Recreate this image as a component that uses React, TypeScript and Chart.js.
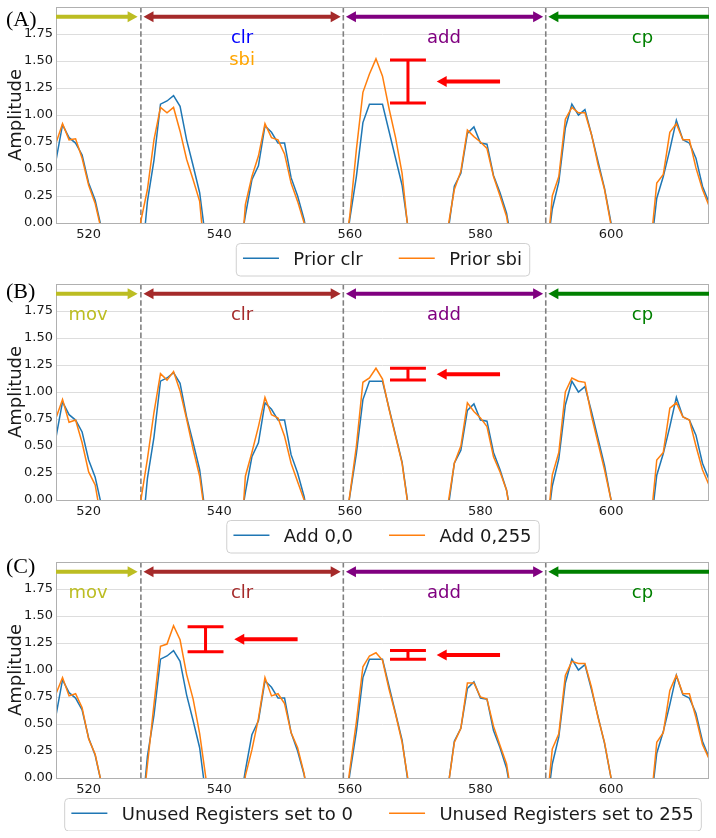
import React, { useEffect, useRef } from 'react';
import { Chart, registerables } from 'chart.js';

Chart.register(...registerables);

// ---------------- data ----------------
const SAMPLE_START = 513; // first sample index of every series below
const X_MIN = 515;
const X_MAX = 615;
const Y_MIN = 0;
const Y_MAX = 2.0;
const X_TICKS = [520, 540, 560, 580, 600];
const Y_TICKS = [0, 0.25, 0.5, 0.75, 1.0, 1.25, 1.5, 1.75];
const SEGMENT_BOUNDS = [528, 559, 590];

// baseline trace (blue) shared by all three panels, samples 513..616
const BASELINE = [
  -0.10, 0.28, 0.58, 0.91, 0.79, 0.74, 0.63, 0.37, 0.21, -0.06,
  -0.45, -0.80, -0.95, -0.85, -0.65, -0.45, 0.20, 0.58, 1.10, 1.13,
  1.18, 1.08, 0.77, 0.53, 0.28, -0.19, -0.60, -0.90, -1.00, -0.90,
  -0.30, 0.07, 0.40, 0.53, 0.90, 0.84, 0.74, 0.74, 0.42, 0.25,
  0.03, -0.30, -0.70, -0.95, -0.95, -0.70, -0.40, 0.04, 0.43, 0.93,
  1.10, 1.10, 1.10, 0.85, 0.60, 0.35, -0.08, -0.50, -0.85, -1.00,
  -0.90, -0.60, -0.10, 0.34, 0.46, 0.83, 0.89, 0.74, 0.73, 0.44,
  0.28, 0.09, -0.25, -0.70, -0.95, -1.00, -0.80, -0.35, 0.13, 0.38,
  0.88, 1.10, 1.00, 1.05, 0.82, 0.57, 0.32, 0.00, -0.40, -0.80,
  -1.00, -0.95, -0.70, -0.30, 0.23, 0.43, 0.68, 0.95, 0.77, 0.74,
  0.60, 0.34, 0.19, 0.02,
];

// (A) Prior sbi
const PRIOR_SBI = [
  0.10, 0.50, 0.74, 0.92, 0.77, 0.78, 0.60, 0.35, 0.18, -0.08,
  -0.50, -0.85, -1.00, -0.85, -0.50, 0.02, 0.31, 0.77, 1.07, 1.02,
  1.07, 0.85, 0.59, 0.40, 0.20, -0.45, -0.85, -1.00, -0.95, -0.80,
  -0.65, 0.17, 0.43, 0.62, 0.92, 0.79, 0.77, 0.64, 0.37, 0.20,
  0.00, -0.35, -0.75, -0.95, -0.90, -0.65, -0.35, 0.07, 0.68, 1.21,
  1.38, 1.52, 1.36, 1.06, 0.79, 0.46, -0.12, -0.60, -0.90, -1.00,
  -0.90, -0.60, -0.05, 0.31, 0.48, 0.86, 0.80, 0.75, 0.69, 0.43,
  0.25, 0.06, -0.30, -0.70, -0.95, -1.00, -0.80, -0.45, 0.25, 0.43,
  0.96, 1.07, 1.02, 1.02, 0.82, 0.54, 0.31, -0.02, -0.45, -0.85,
  -1.00, -0.90, -0.65, -0.25, 0.37, 0.45, 0.84, 0.92, 0.77, 0.77,
  0.51, 0.31, 0.16, 0.00,
];

// (B) Add 0,255
const ADD_0_255 = [
  0.15, 0.50, 0.76, 0.93, 0.72, 0.74, 0.53, 0.26, 0.14, -0.21,
  -0.55, -0.85, -1.00, -0.85, -0.50, 0.00, 0.38, 0.81, 1.17, 1.11,
  1.19, 1.01, 0.75, 0.47, 0.22, -0.22, -0.60, -0.90, -1.00, -0.90,
  -0.70, 0.22, 0.44, 0.68, 0.95, 0.79, 0.76, 0.59, 0.34, 0.17,
  0.00, -0.35, -0.75, -0.95, -0.90, -0.65, -0.35, 0.05, 0.50, 1.09,
  1.13, 1.22, 1.12, 0.84, 0.59, 0.34, -0.09, -0.50, -0.85, -1.00,
  -0.90, -0.60, -0.05, 0.34, 0.50, 0.90, 0.82, 0.76, 0.68, 0.40,
  0.26, 0.09, -0.30, -0.70, -0.95, -1.00, -0.80, -0.40, 0.23, 0.44,
  1.00, 1.13, 1.10, 1.09, 0.78, 0.53, 0.28, 0.00, -0.40, -0.80,
  -1.00, -0.95, -0.70, -0.25, 0.37, 0.44, 0.85, 0.90, 0.77, 0.74,
  0.50, 0.28, 0.14, -0.02,
];

// (C) Unused registers set to 255
const REGS_255 = [
  0.10, 0.50, 0.78, 0.93, 0.76, 0.78, 0.65, 0.36, 0.22, -0.06,
  -0.45, -0.80, -0.95, -0.85, -0.65, -0.45, 0.12, 0.68, 1.22, 1.24,
  1.41, 1.28, 0.96, 0.73, 0.41, -0.02, -0.50, -0.85, -1.00, -0.90,
  -0.60, 0.02, 0.26, 0.55, 0.93, 0.76, 0.78, 0.69, 0.42, 0.28,
  0.04, -0.35, -0.75, -0.95, -0.90, -0.65, -0.40, 0.08, 0.52, 1.03,
  1.13, 1.16, 1.09, 0.82, 0.59, 0.33, -0.05, -0.50, -0.85, -1.00,
  -0.90, -0.60, -0.10, 0.33, 0.46, 0.88, 0.88, 0.75, 0.73, 0.48,
  0.30, 0.13, -0.25, -0.70, -0.95, -1.00, -0.80, -0.35, 0.27, 0.41,
  0.95, 1.08, 1.06, 1.06, 0.84, 0.56, 0.33, 0.00, -0.40, -0.80,
  -1.00, -0.95, -0.70, -0.30, 0.33, 0.42, 0.81, 0.95, 0.78, 0.78,
  0.56, 0.31, 0.18, 0.00,
];

const TOP_ARROW_Y = 1.91;
const SEGMENT_ARROWS = [
  { from: 515, to: 527.5, color: '#bcbd22', headFrom: false, headTo: true },
  { from: 528.4, to: 558.6, color: '#a52a2a', headFrom: true, headTo: true },
  { from: 559.4, to: 589.6, color: '#800080', headFrom: true, headTo: true },
  { from: 615, to: 590.4, color: '#008000', headFrom: false, headTo: true },
];

const LABELS_A = [
  { text: 'clr', x: 543.5, y: 1.667, color: '#0000ff' },
  { text: 'sbi', x: 543.5, y: 1.466, color: '#ffa500' },
  { text: 'add', x: 574.4, y: 1.667, color: '#800080' },
  { text: 'cp', x: 604.8, y: 1.667, color: '#008000' },
];
const LABELS_BC = [
  { text: 'mov', x: 519.9, y: 1.667, color: '#bcbd22' },
  { text: 'clr', x: 543.5, y: 1.667, color: '#a52a2a' },
  { text: 'add', x: 574.4, y: 1.667, color: '#800080' },
  { text: 'cp', x: 604.8, y: 1.667, color: '#008000' },
];

const DIFF_A = [{ x: 568.9, lo: 1.11, hi: 1.51 }];
const DIFF_B = [{ x: 568.9, lo: 1.11, hi: 1.22 }];
const DIFF_C = [
  { x: 537.9, lo: 1.17, hi: 1.40 },
  { x: 568.9, lo: 1.10, hi: 1.18 },
];

const BLUE = '#1f77b4';
const ORANGE = '#ff7f0e';

const PANELS = [
  { tag: '(A)', tagY: 25.6, top: 0, padTop: 7, names: ['Prior clr', 'Prior sbi'], series: [BASELINE, PRIOR_SBI], labels: LABELS_A, diffs: DIFF_A },
  { tag: '(B)', tagY: 20.5, top: 277, padTop: 7, names: ['Add 0,0', 'Add 0,255'], series: [BASELINE, ADD_0_255], labels: LABELS_BC, diffs: DIFF_B },
  { tag: '(C)', tagY: 18.5, top: 554, padTop: 8, names: ['Unused Registers set to 0', 'Unused Registers set to 255'], series: [BASELINE, REGS_255], labels: LABELS_BC, diffs: DIFF_C },
];

const CANVAS_W = 716;
const CANVAS_H = 277;
const PLOT_H = 216;
const XAXIS_H = 20;
const FONT = '"DejaVu Sans", sans-serif';

// ---------------- drawing helpers ----------------
function head(ctx: CanvasRenderingContext2D, tipX: number, y: number, back: number, len: number, half: number) {
  ctx.beginPath();
  ctx.moveTo(tipX, y);
  ctx.lineTo(tipX + back * len, y - half);
  ctx.lineTo(tipX + back * len, y + half);
  ctx.closePath();
  ctx.fill();
}

function hArrow(ctx: CanvasRenderingContext2D, xa: number, xb: number, y: number, color: string, lw: number, len: number, half: number, headA: boolean, headB: boolean) {
  ctx.save();
  ctx.strokeStyle = color;
  ctx.fillStyle = color;
  ctx.lineWidth = lw;
  ctx.lineCap = 'butt';
  const dir = Math.sign(xb - xa);
  const s = headA ? xa + dir * len * 0.8 : xa;
  const e = headB ? xb - dir * len * 0.8 : xb;
  ctx.beginPath();
  ctx.moveTo(s, y);
  ctx.lineTo(e, y);
  ctx.stroke();
  if (headB) head(ctx, xb, y, -dir, len, half);
  if (headA) head(ctx, xa, y, dir, len, half);
  ctx.restore();
}

function makePlugin(panel: any) {
  return {
    id: 'panelDecor',
    beforeDatasetsDraw(chart: any) {
      const { ctx, chartArea, scales } = chart;
      const xs = scales.x;
      ctx.save();
      // vertical dashed segment boundaries
      ctx.strokeStyle = '#808080';
      ctx.lineWidth = 1.6;
      ctx.setLineDash([5.5, 2.6]);
      SEGMENT_BOUNDS.forEach((b) => {
        const px = xs.getPixelForValue(b);
        ctx.beginPath();
        ctx.moveTo(px, chartArea.top);
        ctx.lineTo(px, chartArea.bottom);
        ctx.stroke();
      });
      ctx.restore();
    },
    afterDatasetsDraw(chart: any) {
      const { ctx, chartArea, scales } = chart;
      const xs = scales.x;
      const ys = scales.y;
      // frame
      ctx.save();
      ctx.strokeStyle = '#b0b0b0';
      ctx.lineWidth = 1;
      ctx.strokeRect(chartArea.left + 0.5, chartArea.top + 0.5, chartArea.right - chartArea.left - 1, chartArea.bottom - chartArea.top);
      ctx.restore();

      // segment arrows
      const ay = ys.getPixelForValue(TOP_ARROW_Y);
      SEGMENT_ARROWS.forEach((a) => {
        hArrow(ctx, xs.getPixelForValue(a.from), xs.getPixelForValue(a.to), ay, a.color, 4, 10, 5.5, a.headFrom, a.headTo);
      });

      // segment labels
      ctx.save();
      ctx.font = `18px ${FONT}`;
      ctx.textAlign = 'center';
      ctx.textBaseline = 'alphabetic';
      panel.labels.forEach((l: any) => {
        ctx.fillStyle = l.color;
        ctx.fillText(l.text, xs.getPixelForValue(l.x), ys.getPixelForValue(l.y));
      });
      ctx.restore();

      // difference markers
      panel.diffs.forEach((d: any) => {
        const cx = xs.getPixelForValue(d.x);
        const c0 = xs.getPixelForValue(d.x - 2.75);
        const c1 = xs.getPixelForValue(d.x + 2.75);
        const yl = ys.getPixelForValue(d.lo);
        const yh = ys.getPixelForValue(d.hi);
        ctx.save();
        ctx.strokeStyle = '#ff0000';
        ctx.lineWidth = 3;
        ctx.beginPath();
        ctx.moveTo(cx, yl);
        ctx.lineTo(cx, yh);
        ctx.moveTo(c0, yl);
        ctx.lineTo(c1, yl);
        ctx.moveTo(c0, yh);
        ctx.lineTo(c1, yh);
        ctx.stroke();
        ctx.restore();
        const my = ys.getPixelForValue((d.lo + d.hi) / 2);
        hArrow(ctx, xs.getPixelForValue(d.x + 14.1), xs.getPixelForValue(d.x + 4.4), my, '#ff0000', 4, 10, 5.5, false, true);
      });
    },
    afterDraw(chart: any) {
      const { ctx, chartArea } = chart;
      ctx.save();
      // panel tag
      ctx.font = `22px "Liberation Serif", serif`;
      ctx.fillStyle = '#000';
      ctx.textAlign = 'left';
      ctx.textBaseline = 'alphabetic';
      ctx.fillText(panel.tag, 6, panel.tagY);

      // legend
      const fs = 18;
      ctx.font = `${fs}px ${FONT}`;
      const pad = 0.4 * fs, hl = 2 * fs, htp = 0.8 * fs, cs = 2 * fs;
      const widths = panel.names.map((n: string) => ctx.measureText(n).width);
      const total = pad * 2 + widths.reduce((a: number, w: number) => a + hl + htp + w, 0) + cs * (panel.names.length - 1);
      const cx = (chartArea.left + chartArea.right) / 2;
      const left = cx - total / 2;
      const top = chartArea.bottom + 20;
      const h = 32.5;
      ctx.beginPath();
      (ctx as any).roundRect(left + 0.5, top + 0.5, total, h, 4);
      ctx.fillStyle = 'rgba(255,255,255,0.8)';
      ctx.fill();
      ctx.strokeStyle = '#d0d0d0';
      ctx.lineWidth = 1;
      ctx.stroke();
      const cy = top + h / 2;
      let x = left + pad;
      const colors = [BLUE, ORANGE];
      panel.names.forEach((n: string, i: number) => {
        ctx.strokeStyle = colors[i];
        ctx.lineWidth = 1.5;
        ctx.beginPath();
        ctx.moveTo(x, cy - 1);
        ctx.lineTo(x + hl, cy - 1);
        ctx.stroke();
        x += hl + htp;
        ctx.fillStyle = '#1a1a1a';
        ctx.fillText(n, x, cy + 6);
        x += widths[i] + cs;
      });
      ctx.restore();
    },
  };
}

function toPoints(values: number[]) {
  return values.map((v, i) => ({ x: SAMPLE_START + i, y: v }));
}

function Panel({ panel }: { panel: any }) {
  const ref = useRef<HTMLCanvasElement | null>(null);
  useEffect(() => {
    if (!ref.current) return;
    const chart = new Chart(ref.current, {
      type: 'line',
      data: {
        datasets: [
          { label: panel.names[0], data: toPoints(panel.series[0]), borderColor: BLUE, backgroundColor: BLUE, borderWidth: 1.5, pointRadius: 0, tension: 0, order: 1 },
          { label: panel.names[1], data: toPoints(panel.series[1]), borderColor: ORANGE, backgroundColor: ORANGE, borderWidth: 1.5, pointRadius: 0, tension: 0, order: 0 },
        ],
      },
      options: {
        responsive: false,
        animation: false,
        devicePixelRatio: 1,
        layout: {
          padding: { top: panel.padTop, left: 0, right: CANVAS_W - 709, bottom: CANVAS_H - panel.padTop - PLOT_H - XAXIS_H },
        },
        plugins: { legend: { display: false }, tooltip: { enabled: false } },
        scales: {
          x: {
            type: 'linear',
            min: X_MIN,
            max: X_MAX,
            grid: { display: false, drawTicks: false },
            border: { display: false },
            ticks: {
              color: '#1a1a1a',
              font: { size: 13, family: FONT },
              padding: 4,
              maxRotation: 0,
              callback: (v: any) => String(v),
            },
            afterBuildTicks: (s: any) => { s.ticks = X_TICKS.map((v) => ({ value: v })); },
            afterFit: (s: any) => { s.height = XAXIS_H; s.paddingLeft = 0; s.paddingRight = 0; },
          },
          y: {
            type: 'linear',
            min: Y_MIN,
            max: Y_MAX,
            grid: { color: '#dddddd', lineWidth: 1, drawTicks: false },
            border: { display: false },
            ticks: {
              color: '#1a1a1a',
              font: { size: 13, family: FONT },
              padding: 3,
              callback: (v: any) => Number(v).toFixed(2),
            },
            title: {
              display: true,
              text: 'Amplitude',
              color: '#1a1a1a',
              font: { size: 18, family: FONT },
              padding: { top: 6, bottom: 0 },
            },
            afterBuildTicks: (s: any) => { s.ticks = Y_TICKS.map((v) => ({ value: v })); },
            afterFit: (s: any) => { s.width = 56; s.paddingTop = 0; s.paddingBottom = 0; },
          },
        },
      },
      plugins: [makePlugin(panel)],
    } as any);
    return () => chart.destroy();
  }, [panel]);
  return (
    <canvas
      ref={ref}
      width={CANVAS_W}
      height={CANVAS_H}
      style={{ position: 'absolute', left: 0, top: panel.top, width: CANVAS_W, height: CANVAS_H }}
    />
  );
}

export default function App() {
  return (
    <div style={{ position: 'absolute', left: 0, top: 0, width: 716, height: 838, background: '#fff', overflow: 'hidden' }}>
      {PANELS.map((p) => (
        <Panel key={p.tag} panel={p} />
      ))}
    </div>
  );
}
